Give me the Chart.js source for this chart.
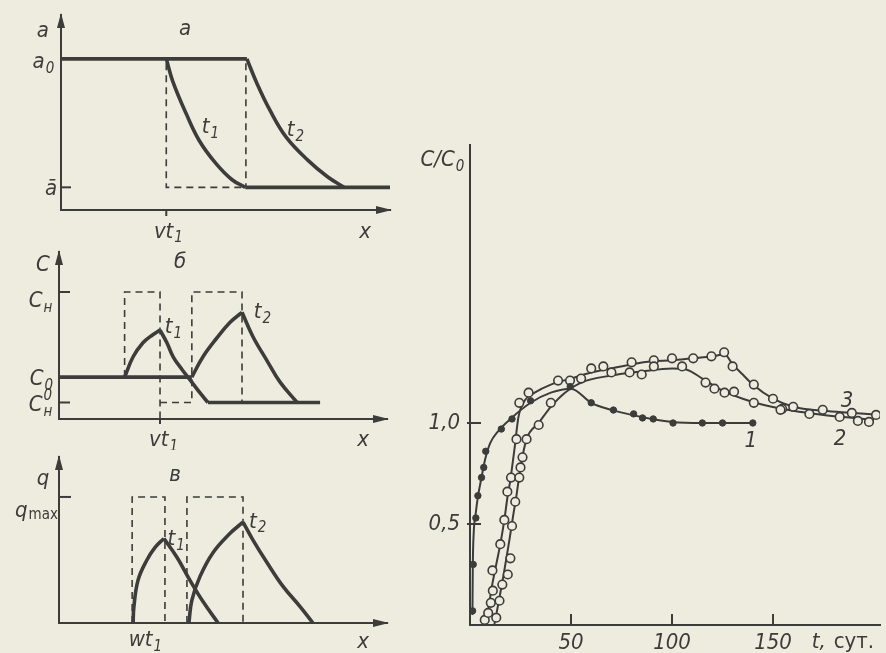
<!DOCTYPE html>
<html lang="ru">
<head>
<meta charset="UTF-8">
<title>Профили a, C, q и выходные кривые C/C0</title>
<script src="https://cdn.jsdelivr.net/npm/chart.js"></script>
<style>
    body { margin: 0; background: #edecdf; }
    #page { position: relative; width: 886px; height: 653px; overflow: hidden; background: #edecdf; }
    canvas { position: absolute; }
</style>
</head>
<body>
<div id="page">
    <canvas id="panelA" width="400" height="250" style="left:0;top:0"></canvas>
    <canvas id="panelB" width="400" height="210" style="left:0;top:240px"></canvas>
    <canvas id="panelC" width="400" height="208" style="left:0;top:445px"></canvas>
    <canvas id="curves" width="486" height="533" style="left:400px;top:120px"></canvas>
</div>

<script>
const INK = '#3c3c3a';
const PAPER = '#edecdf';
const FONT = '"DejaVu Sans Condensed", "Liberation Sans Narrow", "DejaVu Sans", sans-serif';

// --- panel а : a(x) at t1 and t2 (schematic, x 0..10, a0 = 1)
const aTop = [[0, 1], [5.65, 1]];
const aT1 = [[3.2, 1], [3.4, 0.85], [3.8, 0.64], [4.2, 0.46], [4.7, 0.31], [5.2, 0.2], [5.6, 0.15]];
const aT2 = [[5.65, 1], [5.95, 0.84], [6.35, 0.66], [6.85, 0.48], [7.5, 0.33], [8.1, 0.22], [8.6, 0.15]];
const aBottom = [[5.6, 0.15], [10, 0.15]];
const aDash1 = [[3.2, 0.97], [3.2, 0.15], [5.6, 0.15]];
const aDash2 = [[5.62, 0.97], [5.62, 0.15]];

// --- panel б : C(x), C_H = 1
const bBase = [[0, 0.33], [4.05, 0.33]];
const bT1Up = [[2.0, 0.33], [2.26, 0.49], [2.56, 0.6], [2.84, 0.66], [3.08, 0.7]];
const bT1Down = [[3.08, 0.7], [3.29, 0.6], [3.48, 0.49], [3.75, 0.39], [3.99, 0.31], [4.3, 0.205], [4.54, 0.13]];
const bTail = [[4.54, 0.13], [7.96, 0.13]];
const bT2Up = [[4.05, 0.33], [4.39, 0.49], [4.82, 0.64], [5.21, 0.76], [5.58, 0.84]];
const bT2Down = [[5.58, 0.84], [5.91, 0.65], [6.34, 0.46], [6.74, 0.29], [7.26, 0.13]];
const bDash1 = [[2.0, 0.33], [2.0, 1], [3.08, 1], [3.08, 0]];
const bDash2 = [[3.08, 0.13], [4.05, 0.13], [4.05, 1], [5.58, 1], [5.58, 0.13]];

// --- panel в : q(x), q_max = 1
const cT1Up = [[2.26, 0], [2.28, 0.12], [2.41, 0.34], [2.68, 0.5], [2.93, 0.6], [3.2, 0.67]];
const cT1Down = [[3.2, 0.67], [3.6, 0.52], [3.99, 0.34], [4.39, 0.17], [4.85, 0]];
const cT2Up = [[3.96, 0], [4.05, 0.18], [4.3, 0.37], [4.7, 0.56], [5.21, 0.71], [5.61, 0.8]];
const cT2Down = [[5.61, 0.8], [5.91, 0.66], [6.34, 0.48], [6.83, 0.29], [7.35, 0.13], [7.74, 0]];
const cDash1 = [[2.23, 0], [2.23, 1], [3.23, 1], [3.23, 0]];
const cDash2 = [[3.9, 0], [3.9, 1], [5.61, 1], [5.61, 0]];

// --- right chart : C/C0 vs t, days
const xTicks = [50, 100, 150];
const yTicks = [0.5, 1.0];

const c1LineT = [1.2, 1.4, 1.8, 2.8, 4, 5.5, 7.5, 10, 14, 20, 30, 40, 50, 60, 70, 80, 90, 100, 115, 140];
const c1LineC = [0.05, 0.3, 0.45, 0.55, 0.64, 0.72, 0.82, 0.9, 0.96, 1.02, 1.1, 1.15, 1.17, 1.1, 1.065, 1.04, 1.02, 1.005, 1.0, 1.0];
const c1PtsT = [1.3, 1.6, 2.9, 3.9, 5.7, 6.8, 7.8, 15.5, 20.8, 30, 49.6, 60, 71, 81, 85.4, 90.7, 100.5, 115, 125, 140];
const c1PtsC = [0.07, 0.3, 0.53, 0.64, 0.73, 0.78, 0.86, 0.97, 1.02, 1.11, 1.18, 1.1, 1.064, 1.045, 1.025, 1.02, 1.0, 1.0, 1.0, 1.0];

const c2LineT = [12, 14.5, 17, 19.5, 21.5, 23, 25, 28, 34, 40, 47, 55, 70, 85, 100, 107, 115, 125, 135, 145, 160, 175, 190, 200];
const c2LineC = [0, 0.13, 0.27, 0.42, 0.55, 0.64, 0.78, 0.92, 1.0, 1.08, 1.15, 1.2, 1.235, 1.255, 1.27, 1.265, 1.22, 1.16, 1.12, 1.09, 1.06, 1.04, 1.025, 1.015];
const c2PtsT = [13, 14.6, 16, 18.7, 20, 20.8, 22.4, 24.4, 25, 26, 28, 34, 40, 70, 79, 85, 91, 105, 116.6, 121, 126, 130.7, 140.5, 153.7, 168, 183, 192, 197.5];
const c2PtsC = [0.036, 0.12, 0.2, 0.25, 0.33, 0.49, 0.61, 0.73, 0.78, 0.83, 0.92, 0.99, 1.1, 1.25, 1.25, 1.24, 1.28, 1.28, 1.2, 1.17, 1.15, 1.155, 1.1, 1.065, 1.045, 1.03, 1.01, 1.005];

const c3LineT = [7, 9, 11, 13, 15, 17, 18.5, 20, 22, 24, 27, 32, 40, 50, 60, 70, 80, 90, 100, 110, 120, 126, 130, 135, 140, 150, 160, 175, 190, 203];
const c3LineC = [0, 0.08, 0.2, 0.3, 0.4, 0.52, 0.63, 0.72, 0.87, 1.03, 1.11, 1.15, 1.19, 1.22, 1.25, 1.27, 1.29, 1.305, 1.31, 1.32, 1.33, 1.34, 1.29, 1.24, 1.19, 1.12, 1.08, 1.06, 1.05, 1.04];
const c3PtsT = [7.3, 9, 10.3, 11.1, 11.3, 15, 17, 18.5, 20.3, 23, 24.4, 29, 43.6, 49.5, 55, 60, 66, 80, 91, 100, 110.5, 119.5, 125.8, 130, 140.5, 150, 154.5, 160, 174.6, 189, 201];
const c3PtsC = [0.025, 0.06, 0.11, 0.27, 0.17, 0.4, 0.52, 0.66, 0.73, 0.92, 1.1, 1.15, 1.21, 1.21, 1.22, 1.27, 1.28, 1.3, 1.31, 1.32, 1.32, 1.33, 1.35, 1.28, 1.19, 1.12, 1.07, 1.08, 1.065, 1.05, 1.04];

// text with optional sub/superscript, centred on (px, py)
function drawNote(ctx, px, py, n) {
    const size = n.size || 22;
    const small = Math.round(size * 0.68);
    const mainFont = (n.up ? 'normal ' : 'italic ') + size + 'px ' + FONT;
    const smallFont = (n.subUp ? 'normal ' : 'italic ') + small + 'px ' + FONT;
    ctx.font = mainFont;
    const w1 = ctx.measureText(n.t).width;
    ctx.font = smallFont;
    const w2 = Math.max(n.sub ? ctx.measureText(n.sub).width : 0, n.sup ? ctx.measureText(n.sup).width : 0);
    const x = px - (w1 + w2) / 2;
    const base = py + size * 0.36;
    ctx.textAlign = 'left';
    ctx.textBaseline = 'alphabetic';
    ctx.font = mainFont;
    ctx.fillText(n.t, x, base);
    ctx.font = smallFont;
    if (n.sub) ctx.fillText(n.sub, x + w1 + 1, base + size * (n.subDy !== undefined ? n.subDy : 0.22));
    if (n.sup) ctx.fillText(n.sup, x + w1 + 1, base - size * 0.5);
}

// arrows, inner tick marks and labels
const deco = {
    id: 'deco',
    afterDatasetsDraw(chart, args, o) {
        const ctx = chart.ctx, a = chart.chartArea;
        const xs = chart.scales.x, ys = chart.scales.y;
        ctx.save();
        ctx.strokeStyle = INK;
        ctx.fillStyle = INK;
        ctx.lineWidth = 2;
        if (o.arrows) {
            ctx.beginPath();
            ctx.moveTo(a.left, a.top - 2);
            ctx.lineTo(a.left - 4, a.top + 13);
            ctx.lineTo(a.left + 4, a.top + 13);
            ctx.closePath();
            ctx.fill();
            ctx.beginPath();
            ctx.moveTo(a.right + 2, a.bottom);
            ctx.lineTo(a.right - 14, a.bottom - 4);
            ctx.lineTo(a.right - 14, a.bottom + 4);
            ctx.closePath();
            ctx.fill();
        }
        (o.yTicks || []).forEach(v => {
            const y = ys.getPixelForValue(v);
            ctx.beginPath();
            ctx.moveTo(a.left - (o.yOut || 0), y);
            ctx.lineTo(a.left + (o.yIn || 0), y);
            ctx.stroke();
        });
        (o.xTicks || []).forEach(v => {
            const x = xs.getPixelForValue(v);
            ctx.beginPath();
            ctx.moveTo(x, a.bottom + (o.xOut || 0));
            ctx.lineTo(x, a.bottom - (o.xIn || 0));
            ctx.stroke();
        });
        (o.notes || []).forEach(n => {
            drawNote(ctx, xs.getPixelForValue(n.x), ys.getPixelForValue(n.y), n);
        });
        ctx.restore();
    }
};

// schematic curves: smooth spline through the read points
function seg(pts, extra) {
    return Object.assign({
        data: pts.map(p => ({ x: p[0], y: p[1] })),
        showLine: true,
        borderColor: INK,
        borderWidth: 3.6,
        pointRadius: 0,
        tension: 0.4,
        clip: false
    }, extra || {});
}
const dash = pts => seg(pts, { borderWidth: 1.6, borderDash: [7, 5], tension: 0 });

function axisOpts(max, size, isX) {
    return {
        type: 'linear',
        min: 0,
        max: max,
        grid: { drawOnChartArea: false, drawTicks: false },
        border: { display: true, color: INK, width: 2 },
        ticks: { display: false },
        afterFit: s => { if (isX) s.height = size; else s.width = size; }
    };
}

function panel(id, datasets, yMax, yWidth, xHeight, padTop, padRight, deco_opts) {
    return new Chart(document.getElementById(id), {
        type: 'scatter',
        data: { datasets: datasets },
        options: {
            responsive: false,
            animation: false,
            events: [],
            layout: { padding: { top: padTop, right: padRight, left: 0, bottom: 0 } },
            scales: { x: axisOpts(10, xHeight, true), y: axisOpts(yMax, yWidth, false) },
            plugins: { legend: { display: false }, tooltip: { enabled: false }, deco: deco_opts }
        },
        plugins: [deco]
    });
}

panel('panelA',
    [seg(aTop), seg(aT1), seg(aT2), seg(aBottom), dash(aDash1), dash(aDash2)],
    1.29, 61, 40, 15, 10,
    {
        arrows: true, yTicks: [0.15], yIn: 10, xTicks: [3.2], xOut: 6,
        notes: [
            { x: -0.55, y: 1.2, t: 'a' },
            { x: 3.77, y: 1.21, t: 'а' },
            { x: -0.55, y: 0.99, t: 'a', sub: '0' },
            { x: -0.3, y: 0.15, t: 'ā' },
            { x: 4.53, y: 0.56, t: 't', sub: '1' },
            { x: 7.11, y: 0.54, t: 't', sub: '2' },
            { x: 3.25, y: -0.13, t: 'vt', sub: '1' },
            { x: 9.24, y: -0.13, t: 'x' }
        ]
    });

panel('panelB',
    [seg(bBase), seg(bT1Up), seg(bT1Down), seg(bTail), seg(bT2Up), seg(bT2Down), dash(bDash1), dash(bDash2)],
    1.315, 59, 31, 12, 13,
    {
        arrows: true, yTicks: [1, 0.13], yIn: 11, xTicks: [3.08], xOut: 5,
        notes: [
            { x: -0.49, y: 1.23, t: 'C' },
            { x: 3.69, y: 1.25, t: 'б' },
            { x: -0.58, y: 0.945, t: 'C', sub: 'н' },
            { x: -0.55, y: 0.33, t: 'C', sub: '0' },
            { x: -0.58, y: 0.126, t: 'C', sub: 'н', sup: '0' },
            { x: 3.47, y: 0.74, t: 't', sub: '1' },
            { x: 6.19, y: 0.86, t: 't', sub: '2' },
            { x: 3.17, y: -0.15, t: 'vt', sub: '1' },
            { x: 9.27, y: -0.15, t: 'x' }
        ]
    });

panel('panelC',
    [seg(cT1Up), seg(cT1Down), seg(cT2Up), seg(cT2Down), dash(cDash1), dash(cDash2)],
    1.317, 59, 30, 12, 13,
    {
        arrows: true, yTicks: [1], yIn: 12,
        notes: [
            { x: -0.49, y: 1.16, t: 'q' },
            { x: 3.54, y: 1.19, t: 'в' },
            { x: -0.7, y: 0.9, t: 'q', sub: 'max', subUp: true, subDy: 0.05 },
            { x: 3.56, y: 0.68, t: 't', sub: '1' },
            { x: 6.04, y: 0.82, t: 't', sub: '2' },
            { x: 2.62, y: -0.12, t: 'wt', sub: '1' },
            { x: 9.27, y: -0.135, t: 'x' }
        ]
    });

// right chart
const pts = (ts, cs) => ts.map((t, i) => ({ x: t, y: cs[i] }));
const curve = (ts, cs) => ({
    data: pts(ts, cs), showLine: true, borderColor: INK, borderWidth: 2,
    pointRadius: 0, cubicInterpolationMode: 'monotone', order: 1
});
const dots = (ts, cs, filled) => ({
    data: pts(ts, cs), showLine: false, order: 0,
    pointRadius: filled ? 3.2 : 4.3,
    pointBackgroundColor: filled ? INK : PAPER,
    pointBorderColor: INK,
    pointBorderWidth: filled ? 1 : 1.6
});
const tickFont = { family: FONT, size: 22, style: 'italic' };

new Chart(document.getElementById('curves'), {
    type: 'scatter',
    data: {
        datasets: [
            curve(c1LineT, c1LineC), curve(c2LineT, c2LineC), curve(c3LineT, c3LineC),
            dots(c1PtsT, c1PtsC, true), dots(c2PtsT, c2PtsC, false), dots(c3PtsT, c3PtsC, false)
        ]
    },
    options: {
        responsive: false,
        animation: false,
        events: [],
        layout: { padding: { top: 25, right: 0, left: 0, bottom: 0 } },
        scales: {
            x: {
                type: 'linear', min: 0, max: 203,
                grid: { drawOnChartArea: false, drawTicks: false },
                border: { display: true, color: INK, width: 2 },
                afterBuildTicks: s => { s.ticks = xTicks.map(v => ({ value: v })); },
                ticks: { color: INK, font: tickFont, padding: 5, maxRotation: 0, autoSkip: false, callback: v => String(v) },
                afterFit: s => { s.height = 28; }
            },
            y: {
                type: 'linear', min: 0, max: 2.376,
                grid: { drawOnChartArea: false, drawTicks: false },
                border: { display: true, color: INK, width: 2 },
                afterBuildTicks: s => { s.ticks = yTicks.map(v => ({ value: v })); },
                ticks: { color: INK, font: tickFont, padding: 10, callback: v => v.toFixed(1).replace('.', ',') },
                afterFit: s => { s.width = 70; }
            }
        },
        plugins: {
            legend: { display: false },
            tooltip: { enabled: false },
            deco: {
                yTicks: yTicks, yIn: 11, yOut: 3, xTicks: xTicks, xIn: 11,
                notes: [
                    { x: -13.9, y: 2.31, t: 'C/C', sub: '0' },
                    { x: 139, y: 0.92, t: '1' },
                    { x: 183.2, y: 0.93, t: '2' },
                    { x: 186.6, y: 1.12, t: '3' },
                    { x: 172.7, y: -0.074, t: 't,' },
                    { x: 190, y: -0.074, t: 'сут.', up: true }
                ]
            }
        }
    },
    plugins: [deco]
});
</script>
</body>
</html>
